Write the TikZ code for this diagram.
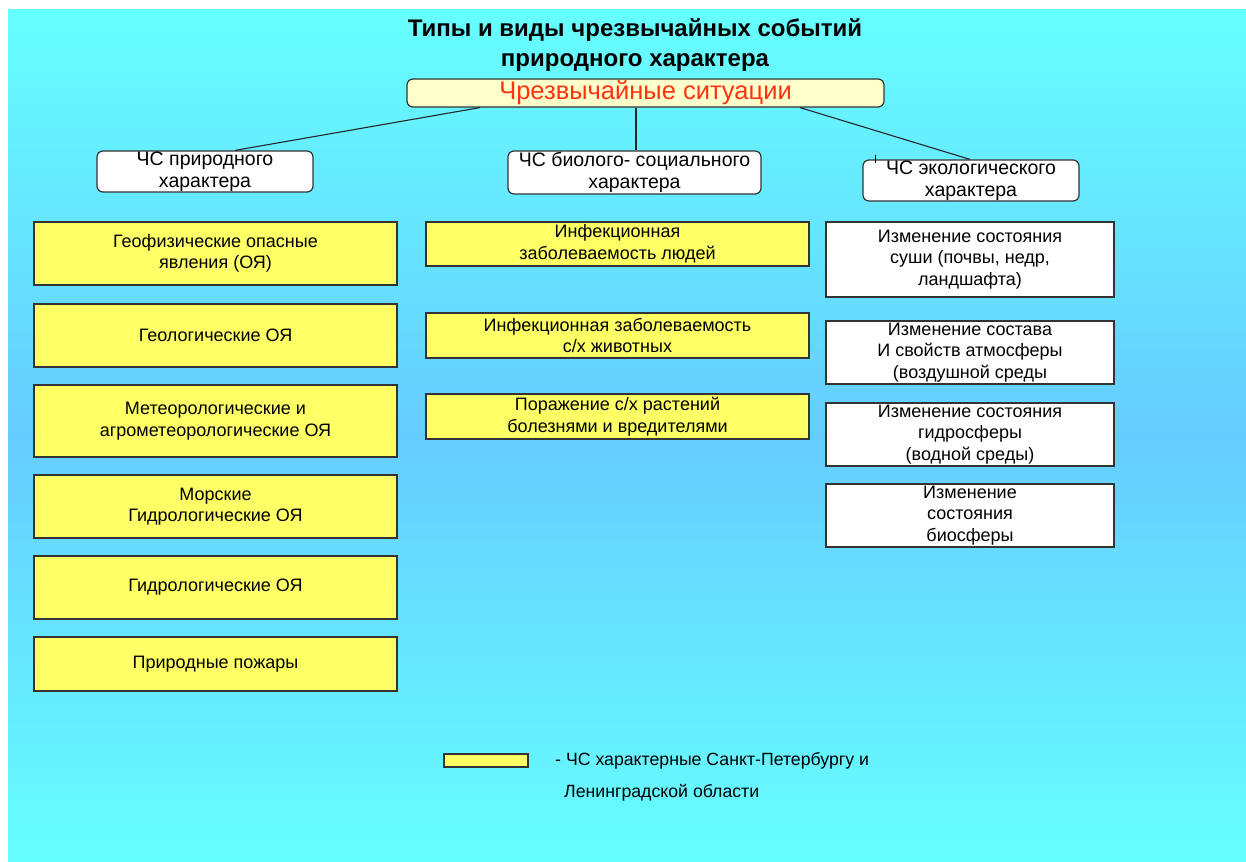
\documentclass[tikz,border=0pt]{standalone}
\usepackage{fontspec}
\setmainfont{Liberation Sans}
\definecolor{bgcyan}{HTML}{66FFFF}
\definecolor{bgblue}{HTML}{66CCFF}
\definecolor{boxyellow}{HTML}{FFFF66}
\definecolor{topyellow}{HTML}{FFFFCC}
\definecolor{redtext}{HTML}{FF3311}
\definecolor{edge}{HTML}{333333}
\tikzset{
  headbox/.style={draw=edge, line width=1.2pt, fill=white, rounded corners=6pt, inner sep=0pt, align=center, font=\fontsize{19.5}{22.5}\selectfont},
  ybox/.style={draw=edge, line width=1.4pt, fill=boxyellow, inner sep=0pt, align=center, font=\fontsize{18}{21.5}\selectfont},
  wbox/.style={draw=edge, line width=1.4pt, fill=white, inner sep=0pt, align=center, font=\fontsize{18}{21.5}\selectfont},
  conn/.style={line width=1.1pt, draw=black!85},
  lgtext/.style={anchor=west, inner sep=0pt, font=\fontsize{17.7}{20}\selectfont}
}
\begin{document}
\begin{tikzpicture}[x=1pt,y=-1pt]
\useasboundingbox (0,0) rectangle (1246,861);
\fill[white] (0,0) rectangle (1246,861);
\shade[top color=bgcyan, bottom color=bgcyan, middle color=bgblue] (8,10) rectangle (1246,861);

\node[font=\bfseries\fontsize{24}{30}\selectfont, align=center, inner sep=0pt] (title) at (635,45) {Типы и виды чрезвычайных событий\\природного характера};

\node[draw=edge, line width=1.2pt, fill=topyellow, rounded corners=6pt, minimum width=477pt, minimum height=28pt, inner sep=0pt, text=redtext, font=\fontsize{25.5}{28}\selectfont] (top) at (645.5,93) {Чрезвычайные ситуации};

\node[headbox, minimum width=216pt, minimum height=41pt] (n1) at (205,171.5) {ЧС природного\\характера};
\node[headbox, minimum width=253pt, minimum height=43pt] (n2) at (634.5,172.5) {ЧС биолого- социального\\характера};
\node[headbox, minimum width=216pt, minimum height=41pt] (n3) at (971,180.5) {ЧС экологического\\характера};

\draw[conn] ([xshift=-165.5pt]top.south) -- ([xshift=30pt]n1.north);
\draw[conn] ([xshift=-9.5pt]top.south) -- ([xshift=1.5pt]n2.north);
\draw[conn] ([xshift=154.5pt]top.south) -- ([xshift=-1pt]n3.north);
\draw[line width=0.8pt] (875,155) -- (875,163);

% left column
\node[ybox, minimum width=363pt, minimum height=63pt] (g1) at (215.5,253.5) {Геофизические опасные\\явления (ОЯ)};
\node[ybox, minimum width=363pt, minimum height=63pt] (g2) at (215.5,335.5) {Геологические ОЯ};
\node[ybox, minimum width=363pt, minimum height=72pt] (g3) at (215.5,421) {Метеорологические и\\агрометеорологические ОЯ};
\node[ybox, minimum width=363pt, minimum height=63pt] (g4) at (215.5,506.5) {Морские\\Гидрологические ОЯ};
\node[ybox, minimum width=363pt, minimum height=63pt] (g5) at (215.5,587.5) {Гидрологические ОЯ};
\node[ybox, minimum width=363pt, minimum height=54pt] (g6) at (215.5,664) {Природные пожары};

% middle column
\node[ybox, minimum width=383pt, minimum height=44pt] (b1) at (617.5,244) {Инфекционная\\заболеваемость людей};
\node[ybox, minimum width=383pt, minimum height=45pt] (b2) at (617.5,335.5) {Инфекционная заболеваемость\\с/х животных};
\node[ybox, minimum width=383pt, minimum height=45pt] (b3) at (617.5,416.5) {Поражение с/х растений\\болезнями и вредителями};

% right column
\node[wbox, minimum width=288pt, minimum height=75pt] (e1) at (970,259.5) {Изменение состояния\\суши (почвы, недр,\\ландшафта)};
\node[wbox, minimum width=288pt, minimum height=63pt] (e2) at (970,352.5) {Изменение состава\\И свойств атмосферы\\(воздушной среды};
\node[wbox, minimum width=288pt, minimum height=63pt] (e3) at (970,434.5) {Изменение состояния\\гидросферы\\(водной среды)};
\node[wbox, minimum width=288pt, minimum height=63pt] (e4) at (970,515.5) {Изменение\\состояния\\биосферы};

% legend
\node[draw=edge, line width=1.4pt, fill=boxyellow, minimum width=84pt, minimum height=13pt, inner sep=0pt] (lg) at (486,760.5) {};
\node[lgtext] (lt1) at (555,761) {- ЧС характерные Санкт-Петербургу и};
\node[lgtext] (lt2) at (564,793) {Ленинградской области};
\end{tikzpicture}
\end{document}
